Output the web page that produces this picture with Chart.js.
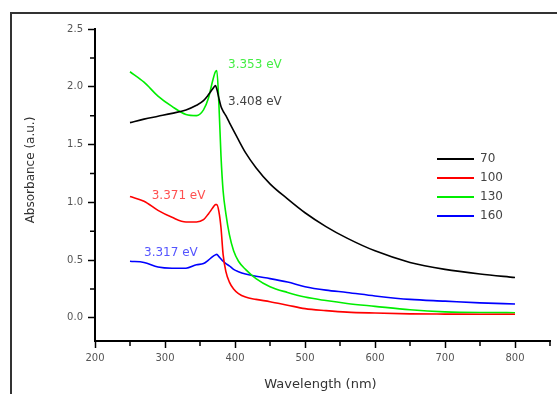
<!DOCTYPE html>
<html>
<head>
<meta charset="utf-8">
<script src="https://cdn.jsdelivr.net/npm/chart.js@4.4.0/dist/chart.umd.min.js"></script>
<style>
  html, body { margin: 0; padding: 0; background: #fff; }
  #wrap { width: 557px; height: 394px; }
</style>
</head>
<body>
<div id="wrap"><canvas id="absChart"></canvas></div>
<script>
// wavelength grid (nm) shared by all four spectra
const wavelengths = [250, 270, 290, 310, 330, 345, 355, 362, 368, 372, 374, 377, 380, 383, 387, 392, 398, 405, 415, 430, 450, 475, 500, 530, 560, 600, 650, 700, 750, 800];

// absorbance (a.u.)
const abs70  = [1.69, 1.72, 1.745, 1.77, 1.80, 1.84, 1.88, 1.93, 1.98, 2.01, 1.98, 1.90, 1.83, 1.79, 1.75, 1.69, 1.62, 1.54, 1.43, 1.30, 1.16, 1.03, 0.91, 0.79, 0.69, 0.58, 0.48, 0.42, 0.38, 0.35];
const abs100 = [1.05, 1.01, 0.93, 0.87, 0.83, 0.83, 0.85, 0.90, 0.95, 0.98, 0.98, 0.92, 0.78, 0.55, 0.40, 0.31, 0.25, 0.21, 0.18, 0.16, 0.14, 0.11, 0.08, 0.063, 0.05, 0.042, 0.035, 0.033, 0.032, 0.032];
const abs130 = [2.13, 2.04, 1.92, 1.83, 1.76, 1.75, 1.80, 1.90, 2.05, 2.13, 2.14, 1.85, 1.40, 1.10, 0.90, 0.72, 0.58, 0.49, 0.42, 0.34, 0.27, 0.22, 0.18, 0.15, 0.125, 0.10, 0.07, 0.052, 0.046, 0.045];
const abs160 = [0.49, 0.48, 0.44, 0.43, 0.43, 0.46, 0.47, 0.50, 0.53, 0.545, 0.55, 0.53, 0.51, 0.49, 0.47, 0.45, 0.42, 0.40, 0.38, 0.36, 0.34, 0.31, 0.27, 0.24, 0.22, 0.19, 0.16, 0.145, 0.13, 0.12];

const seriesLabels = ['70', '100', '130', '160'];
const seriesColors = ['#000000', '#ff0000', '#00ee00', '#0000ff'];

const xTicks = [200, 300, 400, 500, 600, 700, 800];
const xMinorTicks = [250, 350, 450, 550, 650, 750, 850];
const yTicks = [0, 0.5, 1.0, 1.5, 2.0, 2.5];
const yMinorTicks = [0.25, 0.75, 1.25, 1.75, 2.25];

// band gap labels: text, colour, anchor (wavelength, absorbance)
const gapText = ['3.408 eV', '3.371 eV', '3.353 eV', '3.317 eV'];
const gapColor = ['#444444', '#ff5050', '#44ee44', '#5555ff'];
const gapAt = [[390, 1.87], [281, 1.06], [390, 2.19], [270, 0.565]];

const allSeries = [abs70, abs100, abs130, abs160];

function toPoints(ys) {
  return wavelengths.map((w, i) => ({ x: w, y: ys[i] }));
}

const extras = {
  id: 'extras',
  beforeDraw(chart) {
    const ctx = chart.ctx;
    ctx.save();
    ctx.fillStyle = '#fff';
    ctx.fillRect(0, 0, chart.width, chart.height);
    ctx.strokeStyle = '#333';
    ctx.lineWidth = 2;
    ctx.strokeRect(11, 13, chart.width + 20, chart.height + 20);
    ctx.restore();
  },
  afterDraw(chart) {
    const ctx = chart.ctx;
    const xs = chart.scales.x, ys = chart.scales.y;
    const area = chart.chartArea;
    ctx.save();
    // minor ticks
    ctx.strokeStyle = '#000';
    ctx.lineWidth = 1.5;
    ctx.beginPath();
    xMinorTicks.forEach(v => {
      const px = xs.getPixelForValue(v);
      ctx.moveTo(px, area.bottom);
      ctx.lineTo(px, area.bottom + 5);
    });
    yMinorTicks.forEach(v => {
      const py = ys.getPixelForValue(v);
      ctx.moveTo(area.left, py);
      ctx.lineTo(area.left - 5, py);
    });
    ctx.stroke();

    // axis titles
    ctx.fillStyle = '#333';
    ctx.font = '13px "DejaVu Sans"';
    ctx.textAlign = 'center';
    ctx.textBaseline = 'middle';
    ctx.fillText('Wavelength (nm)', (area.left + area.right) / 2 - 2, 385);
    ctx.save();
    ctx.translate(31, 170);
    ctx.rotate(-Math.PI / 2);
    ctx.font = '12px "DejaVu Sans"';
    ctx.fillText('Absorbance (a.u.)', 0, 0);
    ctx.restore();

    // band gap labels
    ctx.font = '12px "DejaVu Sans"';
    ctx.textAlign = 'left';
    gapText.forEach((t, i) => {
      ctx.fillStyle = gapColor[i];
      ctx.fillText(t, xs.getPixelForValue(gapAt[i][0]), ys.getPixelForValue(gapAt[i][1]));
    });

    // legend
    const lx = 437, ly = 159, step = 19;
    chart.data.datasets.forEach((ds, i) => {
      const y = ly + i * step;
      ctx.strokeStyle = ds.borderColor;
      ctx.lineWidth = 2;
      ctx.beginPath();
      ctx.moveTo(lx, y);
      ctx.lineTo(lx + 37, y);
      ctx.stroke();
      ctx.fillStyle = '#444';
      ctx.fillText(ds.label, lx + 43, y);
    });
    ctx.restore();
  }
};

new Chart(document.getElementById('absChart'), {
  type: 'line',
  data: {
    datasets: allSeries.map((s, i) => ({
      label: seriesLabels[i],
      data: toPoints(s),
      borderColor: seriesColors[i],
      borderWidth: 1.6,
      pointRadius: 0,
      cubicInterpolationMode: 'monotone',
      fill: false
    }))
  },
  options: {
    responsive: true,
    maintainAspectRatio: false,
    animation: false,
    events: [],
    layout: { padding: { top: 29, right: 7, left: 0, bottom: 0 } },
    plugins: { legend: { display: false }, tooltip: { enabled: false } },
    scales: {
      x: {
        type: 'linear',
        min: 200,
        max: 850,
        afterBuildTicks: (scale) => { scale.ticks = xTicks.map(v => ({ value: v })); },
        afterFit: (scale) => { scale.height = 53; },
        grid: { drawOnChartArea: false, tickLength: 7, tickColor: '#000', tickWidth: 1.5 },
        border: { display: true, color: '#000', width: 2 },
        ticks: {
          padding: 4,
          color: '#555',
          font: { family: 'DejaVu Sans', size: 10 },
          maxRotation: 0,
          callback: (v) => String(v)
        }
      },
      y: {
        min: -0.2,
        max: 2.5,
        afterBuildTicks: (scale) => { scale.ticks = yTicks.map(v => ({ value: v })); },
        afterFit: (scale) => { scale.width = 95; },
        grid: { drawOnChartArea: false, tickLength: 7, tickColor: '#000', tickWidth: 1.5 },
        border: { display: true, color: '#000', width: 2 },
        ticks: {
          padding: 5,
          color: '#555',
          font: { family: 'DejaVu Sans', size: 10 },
          callback: (v) => Number(v).toFixed(1)
        }
      }
    }
  },
  plugins: [extras]
});
</script>
</body>
</html>
